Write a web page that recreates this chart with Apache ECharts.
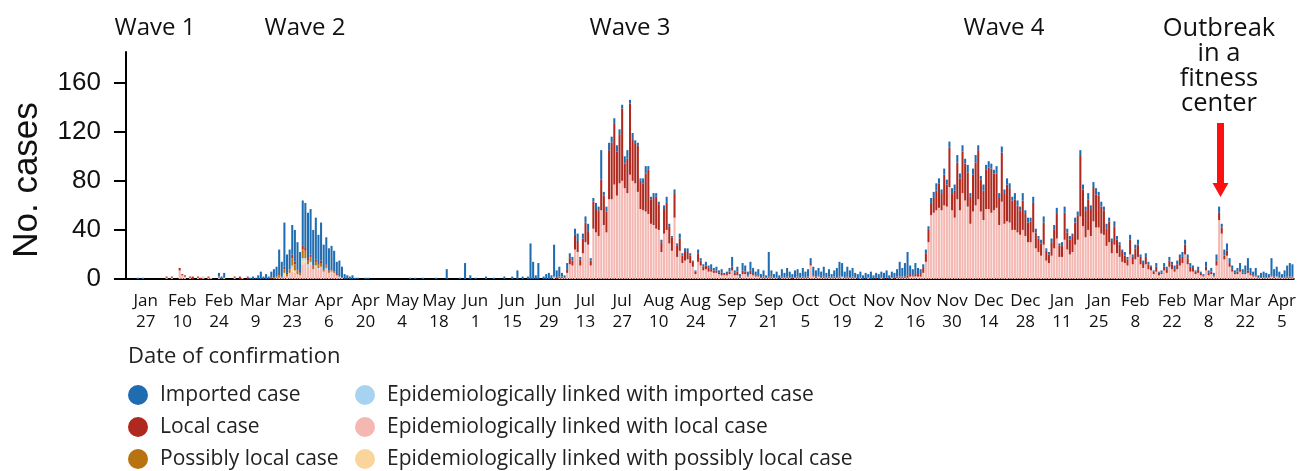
<!DOCTYPE html>
<html>
<head>
<meta charset="utf-8">
<script src="https://cdn.jsdelivr.net/npm/echarts@6/dist/echarts.min.js"></script>
<style>
html,body{margin:0;padding:0;background:#fff;}
#chart{width:1299px;height:471px;}
</style>
</head>
<body>
<div id="chart"></div>
<script>
// Daily confirmed cases, 2020-01-20 .. 2021-04-09 (446 days), 14 days per line
const imported = [
0,0,0,0,1,0,1,0,0,0,0,0,0,0,
0,0,0,0,0,0,0,0,0,0,0,0,0,0,
0,0,0,0,0,0,0,3,2,4,0,0,0,0,
0,0,0,0,1,1,2,1,3,6,2,4,2,5,
7,8,20,12,36,15,16,24,26,22,17,37,36,37,
37,29,34,24,31,20,22,18,19,17,10,13,9,4,
3,2,3,1,1,0,0,1,1,0,0,0,0,0,
0,0,0,0,0,0,0,0,0,0,1,0,1,0,
0,1,0,0,0,0,1,0,0,0,8,0,0,0,
0,1,0,13,0,3,0,1,0,0,0,2,0,0,
1,0,0,0,2,0,0,2,0,7,0,2,0,2,
29,14,3,13,0,2,4,5,3,26,6,8,3,2,
5,4,3,5,6,2,4,5,6,2,3,5,3,24,
3,4,6,5,4,5,4,3,6,7,3,5,3,2,
2,4,6,3,2,4,3,2,2,3,5,2,1,3,
2,4,2,3,3,2,1,1,3,2,2,3,2,4,
2,3,2,3,1,2,3,8,2,4,2,6,5,3,
7,5,3,5,3,5,2,20,5,3,5,3,6,4,
7,5,3,6,6,4,7,5,6,4,7,5,6,5,
8,4,6,3,5,8,12,11,5,8,6,7,4,4,
5,3,5,3,6,3,4,4,5,5,6,3,5,4,
6,12,7,11,19,7,5,9,5,4,3,3,3,4,
5,6,4,3,5,4,5,4,5,6,4,5,4,6,
3,5,6,4,3,5,4,5,4,3,6,4,5,3,
5,4,3,5,4,3,6,3,4,3,5,3,2,3,
5,2,2,3,4,5,2,3,5,3,3,2,4,3,
4,4,3,5,3,4,5,3,4,3,4,3,2,4,
3,2,2,3,2,4,2,3,4,2,2,3,2,1,
1,3,1,2,3,2,3,2,3,3,3,4,4,3,
3,2,1,2,1,1,4,2,3,2,5,5,3,5,
6,4,3,2,3,5,3,6,10,5,3,6,2,4,
5,4,3,14,6,8,5,3,6,9,11,10
];
const local = [
0,0,0,0,0,0,0,0,0,0,0,0,0,0,
0,1,0,1,0,0,2,1,1,0,1,2,0,1,
1,0,0,1,0,0,0,0,0,0,0,0,0,1,
0,2,0,0,1,0,0,0,0,0,0,0,0,1,
0,0,1,0,2,1,0,3,2,1,0,3,3,2,
2,1,2,1,2,1,1,1,1,0,1,0,0,0,
0,0,0,0,0,0,0,0,0,0,0,0,0,0,
0,0,0,0,0,0,0,0,0,0,0,0,0,0,
0,0,0,0,0,0,0,0,0,0,0,0,0,0,
0,0,0,0,0,0,0,0,0,0,0,0,0,0,
0,0,0,0,0,0,0,0,0,0,0,0,0,0,
0,0,0,0,0,0,0,0,0,0,1,1,1,0,
3,5,4,12,9,5,12,16,11,4,22,19,21,25,
24,17,40,46,50,36,40,59,20,28,58,34,32,38,
23,22,31,36,20,22,26,21,8,20,22,14,11,20,
9,10,6,7,6,6,4,2,7,4,3,3,3,2,
2,2,1,2,1,1,2,3,2,3,1,3,2,1,
3,1,1,1,0,1,0,1,1,0,0,0,1,0,
1,0,1,0,1,0,1,0,1,2,1,1,1,0,
1,0,1,0,1,0,1,0,0,1,0,1,0,0,
0,0,0,0,0,0,1,0,0,0,1,0,0,1,
1,1,1,1,2,2,1,2,2,2,4,7,10,10,
12,16,20,14,25,18,32,14,22,30,26,34,30,28,
22,30,35,40,26,24,32,34,36,30,28,22,40,25,
30,28,24,25,22,20,24,18,16,17,24,13,11,10,
18,8,7,11,15,20,9,9,22,14,12,13,18,20,
50,30,22,25,22,28,27,26,22,20,14,17,10,15,
11,10,8,6,5,12,6,9,10,6,4,6,4,3,
2,4,2,1,3,3,5,4,2,4,6,5,8,5,
4,3,2,3,2,1,3,2,2,1,4,6,5,3,
4,3,2,1,2,2,1,1,2,1,1,1,0,0,
0,0,0,1,1,0,0,0,0,1,1,1
];
const possiblyLocal = [
0,0,0,0,0,0,0,0,0,0,0,0,0,0,
0,0,0,0,0,0,0,0,0,0,0,0,0,0,
0,0,0,0,0,0,0,1,0,0,0,0,0,0,
0,0,0,0,0,0,0,0,0,0,0,0,0,0,
1,1,2,1,3,2,3,6,5,3,2,7,6,3,
4,2,3,2,3,1,2,1,1,1,0,0,0,0,
0,0,0,0,0,0,0,0,0,0,0,0,0,0,
0,0,0,0,0,0,0,0,0,0,0,0,0,0,
0,0,0,0,0,0,0,0,0,0,0,0,0,0,
0,0,0,0,0,0,0,0,0,0,0,0,0,0,
0,0,0,0,0,0,0,0,0,0,0,0,0,0,
0,0,0,0,0,0,0,0,0,0,0,0,0,0,
0,0,0,0,0,0,0,0,0,0,0,0,0,0,
0,0,0,0,0,0,0,0,0,0,0,0,0,0,
0,0,0,0,0,0,0,0,0,0,0,0,0,0,
0,0,0,0,0,0,0,0,0,0,0,0,0,0,
0,0,0,0,0,0,0,0,0,0,0,0,0,0,
0,0,0,0,0,0,0,0,0,0,0,0,0,0,
0,0,0,0,0,0,0,0,0,0,0,0,0,0,
0,0,0,0,0,0,0,0,0,0,0,0,0,0,
0,0,0,0,0,0,0,0,0,0,0,0,0,0,
0,0,0,0,0,0,0,0,0,0,0,0,0,0,
0,0,0,0,0,0,0,0,0,0,0,0,0,0,
0,0,0,0,0,0,0,0,0,0,0,0,0,0,
0,0,0,0,0,0,0,0,0,0,0,0,0,0,
0,0,0,0,0,0,0,0,0,0,0,0,0,0,
0,0,0,0,0,0,0,0,0,0,0,0,0,0,
0,0,0,0,0,0,0,0,0,0,0,0,0,0,
0,0,0,0,0,0,0,0,0,0,0,0,0,0,
0,0,0,0,0,0,0,0,0,0,0,0,0,0,
0,0,0,0,0,0,0,0,0,0,0,0,0,0,
0,0,0,0,0,0,0,0,0,0,0,0
];
const epiImported = [
0,0,0,0,0,0,0,0,0,0,0,0,0,0,
0,0,0,0,0,0,0,0,0,0,0,0,0,0,
0,0,0,0,0,0,0,0,0,0,0,0,0,0,
0,0,0,0,0,0,0,0,0,0,0,0,0,0,
0,0,0,0,1,0,1,2,1,0,0,2,2,2,
1,0,0,1,1,0,1,0,0,0,0,0,0,0,
0,0,0,0,0,0,0,0,0,0,0,0,0,0,
0,0,0,0,0,0,0,0,0,0,0,0,0,0,
0,0,0,0,0,0,0,0,0,0,0,0,0,0,
0,0,0,0,0,0,0,0,0,0,0,0,0,0,
0,0,0,0,0,0,0,0,0,0,0,0,0,0,
0,0,0,0,0,0,0,0,0,0,0,0,0,0,
0,0,0,0,0,0,0,0,0,0,0,0,0,0,
0,0,0,0,0,0,0,0,0,0,0,0,0,0,
0,0,0,0,0,0,0,0,0,0,0,0,0,0,
0,0,0,0,0,0,0,0,0,0,0,0,0,0,
0,0,0,0,0,0,0,0,0,0,0,0,0,0,
0,0,0,0,0,0,0,0,0,0,0,0,0,0,
0,0,0,0,0,0,0,0,0,0,0,0,0,0,
0,0,0,0,0,0,0,0,0,0,0,0,0,0,
0,0,0,0,0,0,0,0,0,0,0,0,0,0,
0,0,0,0,0,0,0,0,0,0,0,0,0,0,
0,0,0,0,0,0,0,0,0,0,0,0,0,0,
0,0,0,0,0,0,0,0,0,0,0,0,0,0,
0,0,0,0,0,0,0,0,0,0,0,0,0,0,
0,0,0,0,0,0,0,0,0,0,0,0,0,0,
0,0,0,0,0,0,0,0,0,0,0,0,0,0,
0,0,0,0,0,0,0,0,0,0,0,0,0,0,
0,0,0,0,0,0,0,0,0,0,0,0,0,0,
0,0,0,0,0,0,0,0,0,0,0,0,0,0,
0,0,0,0,0,0,0,0,0,0,0,0,0,0,
0,0,0,0,0,0,0,0,0,0,0,0
];
const epiLocal = [
0,0,0,0,0,0,0,0,0,0,0,0,0,0,
0,1,0,1,0,0,7,3,2,0,1,0,0,1,
0,2,0,1,1,0,0,1,0,0,0,0,0,1,
0,0,1,0,0,0,0,0,0,0,0,0,0,0,
0,1,1,1,3,2,4,6,5,4,3,12,13,10,
12,8,10,8,9,6,8,5,6,5,3,2,1,0,
0,0,0,0,0,0,0,0,0,0,0,0,0,0,
0,0,0,0,0,0,0,0,0,0,0,0,0,0,
0,0,0,0,0,0,0,0,0,0,0,0,0,0,
0,0,0,0,0,0,0,0,0,0,0,0,0,0,
0,0,0,0,0,0,0,0,0,0,0,0,0,0,
0,0,0,0,0,0,0,0,0,2,0,1,1,1,
5,12,11,24,22,11,21,30,28,11,41,38,35,56,
44,38,65,65,77,68,78,80,74,70,85,80,78,71,
57,56,55,53,45,44,41,40,22,37,40,29,23,50,
18,23,13,15,16,13,10,4,14,11,7,8,6,6,
5,5,4,3,3,3,4,7,3,3,1,4,4,2,
4,3,2,2,1,1,1,1,1,1,1,0,1,1,
1,1,0,1,1,1,1,1,1,11,2,1,2,1,
1,1,1,1,1,1,1,2,1,1,1,1,1,0,
1,0,0,1,0,0,0,0,1,0,0,0,1,0,
1,1,1,1,1,2,2,2,2,2,5,14,30,52,
54,56,58,56,60,59,75,56,50,65,56,70,64,59,
45,55,60,65,55,48,57,57,54,56,58,44,63,45,
47,46,40,40,38,36,40,35,30,30,38,25,22,19,
28,15,13,19,25,33,18,18,32,24,20,22,28,32,
51,43,34,40,35,47,42,42,37,36,27,30,21,28,
21,18,14,13,11,20,12,16,18,12,9,12,8,7,
4,6,3,4,7,5,10,8,6,8,11,13,20,12,
6,6,4,5,3,2,7,3,4,2,11,48,37,16,
19,10,6,4,4,6,4,4,5,3,2,2,1,1,
1,1,1,2,1,2,1,1,1,1,1,1
];
const epiPossiblyLocal = [
0,0,0,0,0,0,0,0,0,0,0,0,0,0,
0,0,0,0,0,0,0,0,0,0,0,0,0,0,
0,0,0,0,0,0,0,0,0,1,0,0,0,0,
0,0,0,0,0,0,0,0,0,0,0,0,0,0,
0,0,0,0,1,0,0,3,1,0,0,3,2,0,
1,0,1,0,0,0,0,0,0,0,0,0,0,0,
0,0,0,0,0,0,0,0,0,0,0,0,0,0,
0,0,0,0,0,0,0,0,0,0,0,0,0,0,
0,0,0,0,0,0,0,0,0,0,0,0,0,0,
0,0,0,0,0,0,0,0,0,0,0,0,0,0,
0,0,0,0,0,0,0,0,0,0,0,0,0,0,
0,0,0,0,0,0,0,0,0,0,0,0,0,0,
0,0,0,0,0,0,0,0,0,0,0,0,0,0,
0,0,0,0,0,0,0,0,0,0,0,0,0,0,
0,0,0,0,0,0,0,0,0,0,0,0,0,0,
0,0,0,0,0,0,0,0,0,0,0,0,0,0,
0,0,0,0,0,0,0,0,0,0,0,0,0,0,
0,0,0,0,0,0,0,0,0,0,0,0,0,0,
0,0,0,0,0,0,0,0,0,0,0,0,0,0,
0,0,0,0,0,0,0,0,0,0,0,0,0,0,
0,0,0,0,0,0,0,0,0,0,0,0,0,0,
0,0,0,0,0,0,0,0,0,0,0,0,0,0,
0,0,0,0,0,0,0,0,0,0,0,0,0,0,
0,0,0,0,0,0,0,0,0,0,0,0,0,0,
0,0,0,0,0,0,0,0,0,0,0,0,0,0,
0,0,0,0,0,0,0,0,0,0,0,0,0,0,
0,0,0,0,0,0,0,0,0,0,0,0,0,0,
0,0,0,0,0,0,0,0,0,0,0,0,0,0,
0,0,0,0,0,0,0,0,0,0,0,0,0,0,
0,0,0,0,0,0,0,0,0,0,0,0,0,0,
0,0,0,0,0,0,0,0,0,0,0,0,0,0,
0,0,0,0,0,0,0,0,0,0,0,0
];
const tickDates = [
'2020-01-27','2020-02-10','2020-02-24','2020-03-09','2020-03-23','2020-04-06','2020-04-20',
'2020-05-04','2020-05-18','2020-06-01','2020-06-15','2020-06-29','2020-07-13','2020-07-27',
'2020-08-10','2020-08-24','2020-09-07','2020-09-21','2020-10-05','2020-10-19','2020-11-02',
'2020-11-16','2020-11-30','2020-12-14','2020-12-28','2021-01-11','2021-01-25','2021-02-08',
'2021-02-22','2021-03-08','2021-03-22','2021-04-05'
];
const yTicks = [0, 40, 80, 120, 160];
const waveLabels = ['Wave 1', 'Wave 2', 'Wave 3', 'Wave 4'];

// categories: one per day
const categories = [];
const start = Date.UTC(2020, 0, 20);
for (let i = 0; i < imported.length; i++) {
  categories.push(new Date(start + i * 86400000).toISOString().slice(0, 10));
}
const monthNames = ['Jan','Feb','Mar','Apr','May','Jun','Jul','Aug','Sep','Oct','Nov','Dec'];
const tickSet = new Set(tickDates);
const showTick = (idx, val) => tickSet.has(val);

const COLORS = {
  imported: '#1f6cb0', local: '#b0291f', possibly: '#b8720f',
  epiImported: '#a8d3f0', epiLocal: '#f5b7b1', epiPossibly: '#f9d59c'
};
const NAMES = {
  imported: 'Imported case', local: 'Local case', possibly: 'Possibly local case',
  epiImported: 'Epidemiologically linked with imported case',
  epiLocal: 'Epidemiologically linked with local case',
  epiPossibly: 'Epidemiologically linked with possibly local case'
};

function barSeries(key, data) {
  return {
    name: NAMES[key], type: 'bar', stack: 'total', data: data,
    barCategoryGap: '22%',
    itemStyle: { color: COLORS[key] },
    emphasis: { disabled: true },
    large: false
  };
}

const chart = echarts.init(document.getElementById('chart'), null, { renderer: 'canvas' });
const legendText = { fontFamily: 'Open Sans', fontSize: 21, lineHeight: 22, color: '#222', padding: [0, 0, 0, 7] };
const legendBase = {
  orient: 'vertical', top: 379, height: 120, padding: 5, itemGap: 10, itemWidth: 20, itemHeight: 22,
  icon: 'circle', selectedMode: false, textStyle: legendText
};
const waveFont = '24px "Open Sans"';
chart.setOption({
  animation: false,
  backgroundColor: '#fff',
  grid: { left: 126, right: 2, top: 52, bottom: 192, containLabel: false },
  xAxis: {
    type: 'category', data: categories, boundaryGap: true,
    axisLine: { lineStyle: { color: '#000', width: 2 } },
    axisTick: { interval: showTick, alignWithLabel: true, length: 11, lineStyle: { color: '#000', width: 2 } },
    axisLabel: {
      interval: showTick, margin: 12,
      formatter: v => monthNames[+v.slice(5, 7) - 1] + '\n' + (+v.slice(8, 10)),
      fontFamily: 'Open Sans', fontSize: 17, lineHeight: 21, color: '#111'
    },
    splitLine: { show: false }
  },
  yAxis: {
    type: 'value', min: 0, max: 185, interval: 40,
    axisLine: { show: true, lineStyle: { color: '#000', width: 2 } },
    axisTick: { show: true, length: 12, customValues: yTicks, lineStyle: { color: '#000', width: 2 } },
    axisLabel: { customValues: yTicks, margin: 25, fontFamily: 'Liberation Sans', fontSize: 26, color: '#111' },
    splitLine: { show: false }
  },
  legend: [
    Object.assign({}, legendBase, { left: 123, data: [NAMES.imported, NAMES.local, NAMES.possibly] }),
    Object.assign({}, legendBase, { left: 350, data: [NAMES.epiImported, NAMES.epiLocal, NAMES.epiPossibly] })
  ],
  series: [
    barSeries('epiLocal', epiLocal),
    barSeries('epiPossibly', epiPossiblyLocal),
    barSeries('epiImported', epiImported),
    barSeries('possibly', possiblyLocal),
    barSeries('local', local),
    barSeries('imported', imported)
  ],
  graphic: [
    { type: 'text', x: 155, y: 28, style: { text: waveLabels[0], font: waveFont, fill: '#111', textAlign: 'center', textVerticalAlign: 'middle' } },
    { type: 'text', x: 305, y: 28, style: { text: waveLabels[1], font: waveFont, fill: '#111', textAlign: 'center', textVerticalAlign: 'middle' } },
    { type: 'text', x: 630, y: 28, style: { text: waveLabels[2], font: waveFont, fill: '#111', textAlign: 'center', textVerticalAlign: 'middle' } },
    { type: 'text', x: 1004, y: 28, style: { text: waveLabels[3], font: waveFont, fill: '#111', textAlign: 'center', textVerticalAlign: 'middle' } },
    { type: 'text', x: 1219, y: 16, style: { text: 'Outbreak\nin a\nfitness\ncenter', font: '25.5px "Open Sans"', lineHeight: 25, fill: '#111', textAlign: 'center', textVerticalAlign: 'top' } },
    { type: 'polygon', shape: { points: [[1217, 123], [1224, 123], [1224, 183], [1228.5, 183], [1220.5, 197], [1212.5, 183], [1217, 183]] }, style: { fill: '#ff1010' } },
    { type: 'text', x: 27, y: 180, rotation: Math.PI / 2, style: { text: 'No. cases', font: '35px "Liberation Sans"', fill: '#111', textAlign: 'center', textVerticalAlign: 'middle' } },
    { type: 'text', x: 128, y: 357, style: { text: 'Date of confirmation', font: '22px "Open Sans"', fill: '#222', textAlign: 'left', textVerticalAlign: 'middle' } }
  ]
});
[imported, local, possiblyLocal, epiImported, epiLocal, epiPossiblyLocal].forEach((a, k) => {
  if (a.length !== 446) console.error('series ' + k + ' length ' + a.length);
});
</script>
</body>
</html>
